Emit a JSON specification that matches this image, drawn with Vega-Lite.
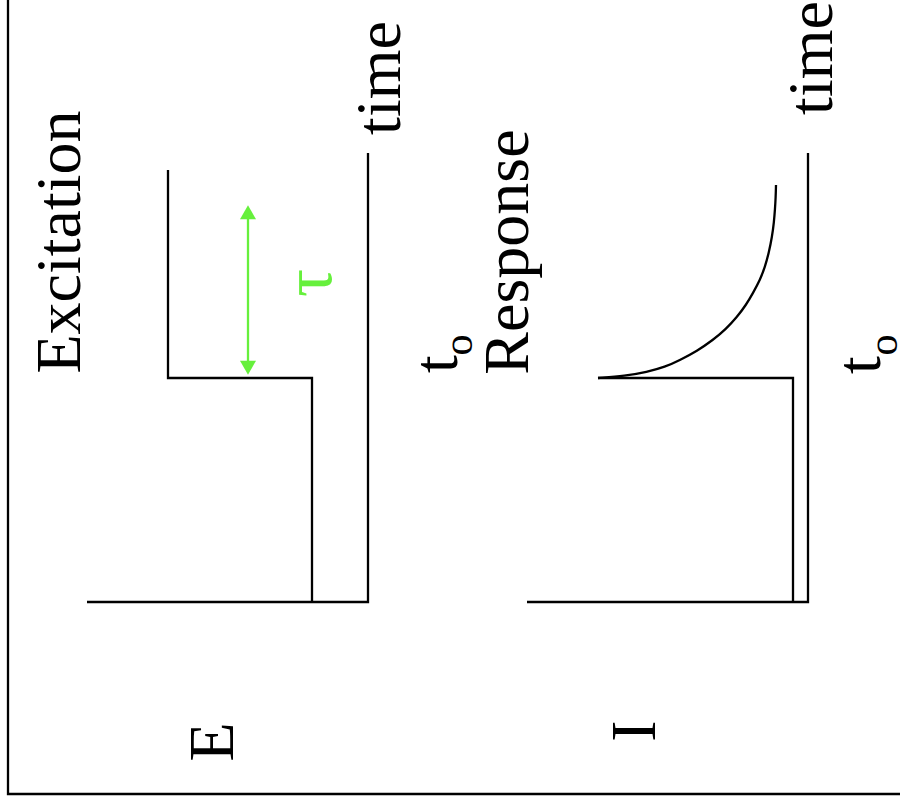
{
  "$schema": "https://vega.github.io/schema/vega-lite/v6.json",
  "width": 900,
  "height": 807,
  "autosize": {"type": "none"},
  "padding": 0,
  "background": "white",
  "config": {"view": {"stroke": null}},
  "datasets": {
    "paths": [
      {"path": "frame", "ord": 1, "x": 8, "y": 0},
      {"path": "frame", "ord": 2, "x": 8, "y": 794},
      {"path": "frame", "ord": 3, "x": 900, "y": 794},
      {"path": "E_axes", "ord": 1, "x": 87, "y": 602},
      {"path": "E_axes", "ord": 2, "x": 368, "y": 602},
      {"path": "E_axes", "ord": 3, "x": 368, "y": 153},
      {"path": "E_step", "ord": 1, "x": 312, "y": 602},
      {"path": "E_step", "ord": 2, "x": 312, "y": 378},
      {"path": "E_step", "ord": 3, "x": 168, "y": 378},
      {"path": "E_step", "ord": 4, "x": 168, "y": 170},
      {"path": "I_axes", "ord": 1, "x": 527, "y": 602},
      {"path": "I_axes", "ord": 2, "x": 808, "y": 602},
      {"path": "I_axes", "ord": 3, "x": 808, "y": 153},
      {"path": "I_step", "ord": 1, "x": 793, "y": 602},
      {"path": "I_step", "ord": 2, "x": 793, "y": 378},
      {"path": "I_step", "ord": 3, "x": 598, "y": 378}
    ],
    "curve": [
      {"ord": 1, "x": 598, "y": 378},
      {"ord": 2, "x": 625, "y": 376},
      {"ord": 3, "x": 647, "y": 372},
      {"ord": 4, "x": 665, "y": 367},
      {"ord": 5, "x": 680, "y": 360},
      {"ord": 6, "x": 697, "y": 351},
      {"ord": 7, "x": 713, "y": 340},
      {"ord": 8, "x": 726, "y": 329},
      {"ord": 9, "x": 737, "y": 317},
      {"ord": 10, "x": 746, "y": 305},
      {"ord": 11, "x": 753, "y": 293},
      {"ord": 12, "x": 760, "y": 280},
      {"ord": 13, "x": 765, "y": 267},
      {"ord": 14, "x": 769, "y": 252},
      {"ord": 15, "x": 772, "y": 237},
      {"ord": 16, "x": 774, "y": 222},
      {"ord": 17, "x": 775, "y": 209},
      {"ord": 18, "x": 775.7, "y": 197},
      {"ord": 19, "x": 776, "y": 185}
    ],
    "arrow": [{"x": 248, "y1": 212, "y2": 368}],
    "heads": [
      {"end": "top", "x": 248, "y": 212.2},
      {"end": "bottom", "x": 248, "y": 367.8}
    ],
    "labels": [
      {"text": "Excitation", "x": 80, "y": 242},
      {"text": "time", "x": 400, "y": 78},
      {"text": "t", "x": 457, "y": 364},
      {"text": "Response", "x": 528, "y": 252},
      {"text": "time", "x": 832, "y": 58},
      {"text": "t", "x": 880, "y": 365},
      {"text": "E", "x": 233, "y": 742},
      {"text": "I", "x": 655, "y": 731}
    ],
    "subs": [
      {"text": "o", "x": 472, "y": 345},
      {"text": "o", "x": 897, "y": 345}
    ],
    "tau": [{"text": "τ", "x": 331, "y": 283}]
  },
  "encoding": {
    "x": {"field": "x", "type": "quantitative", "scale": {"domain": [0, 900], "nice": false, "zero": false}, "axis": null},
    "y": {"field": "y", "type": "quantitative", "scale": {"domain": [0, 807], "nice": false, "zero": false, "reverse": true}, "axis": null}
  },
  "layer": [
    {
      "data": {"name": "paths"},
      "mark": {"type": "line", "color": "black", "strokeWidth": 2.3, "strokeJoin": "miter", "strokeCap": "butt"},
      "encoding": {
        "detail": {"field": "path", "type": "nominal"},
        "order": {"field": "ord", "type": "quantitative"}
      }
    },
    {
      "data": {"name": "curve"},
      "mark": {"type": "line", "color": "black", "strokeWidth": 2.3, "interpolate": "basis"},
      "encoding": {"order": {"field": "ord", "type": "quantitative"}}
    },
    {
      "data": {"name": "arrow"},
      "mark": {"type": "rule", "color": "#66f03c", "strokeWidth": 2.3},
      "encoding": {
        "y": {"field": "y1", "type": "quantitative"},
        "y2": {"field": "y2"}
      }
    },
    {
      "data": {"name": "heads"},
      "mark": {"type": "point", "filled": true, "color": "#66f03c", "size": 256, "opacity": 1},
      "encoding": {
        "shape": {"field": "end", "type": "nominal", "scale": {"domain": ["top", "bottom"], "range": ["triangle-up", "triangle-down"]}, "legend": null}
      }
    },
    {
      "data": {"name": "labels"},
      "mark": {"type": "text", "font": "Liberation Serif", "fontSize": 64, "angle": -90, "align": "center", "baseline": "alphabetic", "color": "black"},
      "encoding": {"text": {"field": "text", "type": "nominal"}}
    },
    {
      "data": {"name": "subs"},
      "mark": {"type": "text", "font": "Liberation Serif", "fontSize": 43, "angle": -90, "align": "center", "baseline": "alphabetic", "color": "black"},
      "encoding": {"text": {"field": "text", "type": "nominal"}}
    },
    {
      "data": {"name": "tau"},
      "mark": {"type": "text", "font": "Liberation Serif", "fontSize": 70, "angle": -90, "align": "center", "baseline": "alphabetic", "color": "#66f03c"},
      "encoding": {"text": {"field": "text", "type": "nominal"}}
    }
  ]
}
